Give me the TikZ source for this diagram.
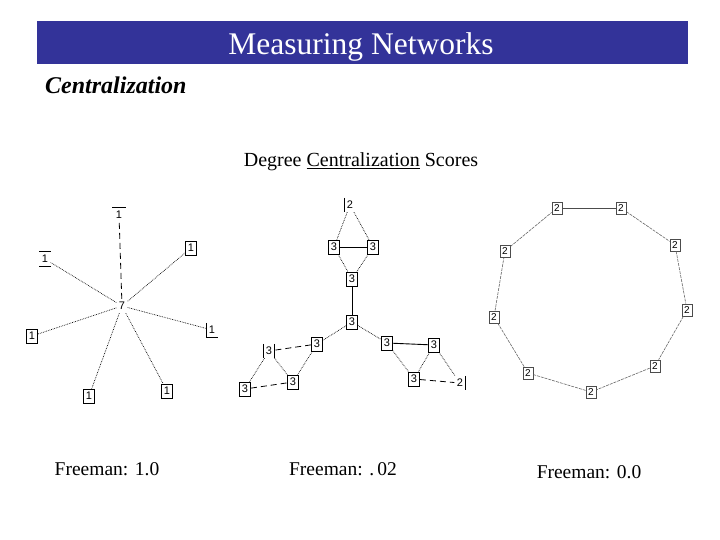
\documentclass[tikz,border=0pt]{standalone}
\usepackage{fontspec}
\setmainfont{Liberation Serif}
\newfontfamily\boxfont{Liberation Sans}
\definecolor{titleblue}{RGB}{51,51,153}
\begin{document}
\begin{tikzpicture}[x=1pt,y=-1pt,
  num/.style={font=\boxfont\fontsize{11}{11}\selectfont, inner sep=1pt, minimum width=11pt, minimum height=14pt},
  bx/.style={num, draw, line width=0.8pt},
  rb/.style={num, draw=black!70, line width=0.7pt, minimum width=10pt, minimum height=12pt, font=\boxfont\fontsize{10}{10}\selectfont},
  dotE/.style={densely dotted, line width=0.7pt},
  dashE/.style={dash pattern=on 6pt off 4pt, line width=0.8pt},
  solE/.style={line width=0.9pt},
  ringE/.style={black!60, line width=0.6pt, dash pattern=on 3pt off 1pt},
  freeman/.style={font=\fontsize{19.5}{21}\selectfont}
]
\useasboundingbox (0,0) rectangle (720,540);
% title
\node[fill=titleblue, minimum width=651pt, minimum height=43pt, inner sep=0pt] (bar) at (362.5,42.5) {};
\node[text=white, font=\fontsize{31.5}{33}\selectfont] (title) at (361,46.5) {Measuring Networks};
\node[anchor=west, font=\fontsize{24}{26}\selectfont\bfseries\itshape, inner sep=0pt] (sub) at (45,85) {Centralization};
\node[font=\fontsize{20}{22}\selectfont] (head) at (361,162) {Degree \underline{Centralization} Scores};

% ---------- star graph ----------
\node[num] (c) at (122,306) {7};
\node[num] (s1) at (119,215) {1};
\draw[line width=0.8pt] ([xshift=-1pt]s1.north west) -- ([xshift=1pt]s1.north east);
\node[num] (s2) at (45,259) {1};
\draw[line width=0.8pt] (s2.north west) -- (s2.north east);
\draw[line width=0.8pt] (s2.south west) -- (s2.south east);
\node[bx] (s3) at (191,248) {1};
\node[bx] (s4) at (32,336) {1};
\node[num] (s5) at (212,330) {1};
\draw[line width=0.8pt] (s5.north west) -- (s5.south west) -- (s5.south east);
\node[bx] (s6) at (89,396) {1};
\node[bx] (s7) at (167,391) {1};
\draw[dashE] (c) -- (s1);
\foreach \t in {s2,s3,s4,s5,s6,s7} \draw[dotE] (c) -- (\t);

% ---------- middle graph ----------
\node[num] (m1) at (350,205) {2};
\draw[line width=0.8pt] (m1.north west) -- (m1.south west);
\node[bx] (m2) at (334,247) {3};
\node[bx] (m3) at (373,247) {3};
\node[bx] (m4) at (352,279) {3};
\node[bx] (m5) at (352,322) {3};
\node[bx] (m6) at (317,344) {3};
\node[bx] (m7) at (387,343) {3};
\node[num] (m8) at (269,351) {3};
\draw[line width=0.8pt] (m8.north west) -- (m8.south west);
\draw[line width=0.8pt] (m8.north east) -- (m8.south east);
\node[bx] (m9) at (293,382) {3};
\node[bx] (m10) at (245,389) {3};
\node[bx] (m11) at (434,345) {3};
\node[bx] (m12) at (414,379) {3};
\node[num] (m13) at (460,383) {2};
\draw[line width=0.8pt] (m13.north east) -- (m13.south east);
\draw[dotE] (m1) -- (m2);
\draw[dotE] (m1) -- (m3);
\draw[solE] (m2) -- (m3);
\draw[dotE] (m2) -- (m4);
\draw[dotE] (m3) -- (m4);
\draw[solE] (m4) -- (m5);
\draw[dotE] (m5) -- (m6);
\draw[dotE] (m5) -- (m7);
\draw[dashE] (m6) -- (m8);
\draw[dotE] (m6) -- (m9);
\draw[dotE] (m8) -- (m9);
\draw[dotE] (m8) -- (m10);
\draw[dashE] (m10) -- (m9);
\draw[solE] (m7) -- (m11);
\draw[dotE] (m7) -- (m12);
\draw[dotE] (m11) -- (m12);
\draw[dotE] (m11) -- (m13);
\draw[dashE] (m12) -- (m13);

% ---------- ring graph ----------
\node[rb] (r1) at (557,208) {2};
\node[rb] (r2) at (621,208) {2};
\node[rb] (r3) at (675,245) {2};
\node[rb] (r4) at (687,310) {2};
\node[rb] (r5) at (655,366) {2};
\node[rb] (r6) at (591,392) {2};
\node[rb] (r7) at (528,373) {2};
\node[rb] (r8) at (494,317) {2};
\node[rb] (r9) at (505,251) {2};
\draw[black!70, line width=0.7pt] (r1) -- (r2);
\draw[ringE] (r2) -- (r3) -- (r4) -- (r5) -- (r6) -- (r7) -- (r8) -- (r9) -- (r1);

% ---------- scores ----------
\node[freeman] (f1) at (107,469) {Freeman: 1.0};
\node[freeman] (f2) at (343,469) {Freeman: .\,02};
\node[freeman] (f3) at (589,472) {Freeman: 0.0};
\end{tikzpicture}
\end{document}
